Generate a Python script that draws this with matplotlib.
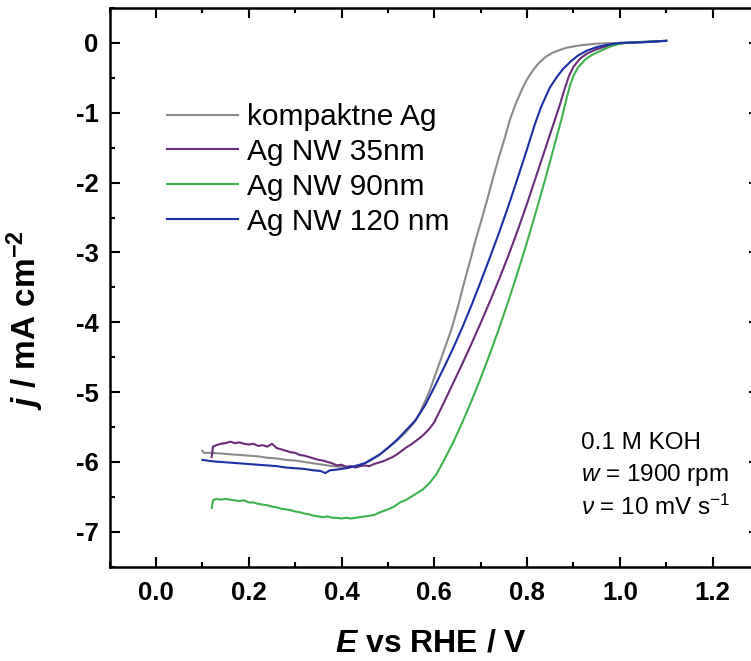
import matplotlib
matplotlib.use("Agg")
import matplotlib.pyplot as plt
from matplotlib.ticker import MultipleLocator

plt.rcParams['font.family'] = ['Liberation Sans', 'DejaVu Sans']
plt.rcParams['axes.unicode_minus'] = False
plt.rcParams['mathtext.fontset'] = 'custom'
plt.rcParams['mathtext.rm'] = 'Liberation Sans'
plt.rcParams['mathtext.it'] = 'Liberation Sans:italic'
plt.rcParams['mathtext.bf'] = 'Liberation Sans:bold'
plt.rcParams['mathtext.bfit'] = 'Liberation Sans:italic:bold'

# kompaktne Ag
E_komp = [0.100, 0.103, 0.12, 0.14, 0.16, 0.18, 0.20, 0.22, 0.24, 0.26, 0.28, 0.30,
          0.32, 0.34, 0.36, 0.38, 0.40, 0.42, 0.44, 0.46, 0.48, 0.497, 0.515, 0.535,
          0.555, 0.57, 0.59, 0.605, 0.62, 0.637, 0.652, 0.666, 0.68, 0.69, 0.702, 0.715,
          0.728, 0.74, 0.752, 0.763, 0.775, 0.79, 0.80, 0.813, 0.825, 0.84, 0.855, 0.871,
          0.885, 0.90, 0.92, 0.95, 1.00, 1.05, 1.10]
j_komp = [-5.84, -5.87, -5.87, -5.88, -5.89, -5.90, -5.91, -5.92, -5.94, -5.95, -5.97, -5.98,
          -6.00, -6.02, -6.04, -6.06, -6.07, -6.07, -6.04, -5.99, -5.91, -5.81, -5.72, -5.60,
          -5.45, -5.28, -4.98, -4.70, -4.42, -4.10, -3.75, -3.39, -3.05, -2.80, -2.53, -2.22,
          -1.90, -1.62, -1.36, -1.10, -0.88, -0.65, -0.52, -0.39, -0.29, -0.20, -0.14, -0.10,
          -0.07, -0.05, -0.03, -0.01, 0.00, 0.01, 0.03]

# Ag NW 35nm
E_35 = [0.120, 0.123, 0.13, 0.14, 0.15, 0.16, 0.17, 0.18, 0.19, 0.20, 0.21, 0.22,
        0.23, 0.24, 0.25, 0.26, 0.27, 0.28, 0.29, 0.30, 0.31, 0.32, 0.33, 0.34,
        0.35, 0.36, 0.37, 0.38, 0.39, 0.40, 0.41, 0.42, 0.43, 0.44, 0.45, 0.46,
        0.47, 0.48, 0.49, 0.50, 0.51, 0.52, 0.53, 0.54, 0.55, 0.56, 0.57, 0.58,
        0.59, 0.60, 0.62, 0.64, 0.66, 0.68, 0.70, 0.72, 0.74, 0.76, 0.78, 0.80,
        0.82, 0.84, 0.855, 0.87, 0.88, 0.89, 0.90, 0.915, 0.93, 0.95, 0.97, 0.99,
        1.01, 1.04, 1.07, 1.10]
j_35 = [-5.93, -5.78, -5.76, -5.74, -5.73, -5.71, -5.73, -5.72, -5.74, -5.75, -5.74, -5.77,
        -5.76, -5.78, -5.74, -5.80, -5.82, -5.84, -5.86, -5.87, -5.90, -5.91, -5.93, -5.95,
        -5.97, -5.98, -6.00, -6.02, -6.05, -6.04, -6.07, -6.06, -6.08, -6.06, -6.05, -6.06,
        -6.03, -6.01, -5.99, -5.96, -5.93, -5.89, -5.84, -5.79, -5.75, -5.70, -5.65, -5.59,
        -5.52, -5.43, -5.16, -4.88, -4.60, -4.31, -4.01, -3.70, -3.38, -3.04, -2.68, -2.30,
        -1.90, -1.50, -1.20, -0.90, -0.68, -0.48, -0.34, -0.22, -0.15, -0.09, -0.05, -0.02,
        0.00, 0.01, 0.02, 0.03]

# Ag NW 90nm
E_90 = [0.120, 0.123, 0.13, 0.14, 0.15, 0.16, 0.17, 0.18, 0.19, 0.20, 0.21, 0.22,
        0.23, 0.24, 0.25, 0.26, 0.27, 0.28, 0.29, 0.30, 0.31, 0.32, 0.33, 0.34,
        0.35, 0.36, 0.37, 0.38, 0.39, 0.40, 0.41, 0.42, 0.43, 0.44, 0.45, 0.46,
        0.47, 0.483, 0.50, 0.513, 0.526, 0.54, 0.555, 0.576, 0.59, 0.605, 0.619, 0.64,
        0.66, 0.68, 0.70, 0.72, 0.74, 0.76, 0.78, 0.80, 0.82, 0.84, 0.86, 0.875,
        0.885, 0.893, 0.90, 0.91, 0.925, 0.94, 0.963, 0.98, 1.00, 1.03, 1.07, 1.10]
j_90 = [-6.66, -6.55, -6.53, -6.54, -6.53, -6.54, -6.55, -6.56, -6.55, -6.58, -6.58, -6.60,
        -6.61, -6.62, -6.64, -6.65, -6.67, -6.68, -6.69, -6.71, -6.72, -6.74, -6.75, -6.77,
        -6.78, -6.79, -6.78, -6.80, -6.80, -6.81, -6.80, -6.81, -6.80, -6.79, -6.78, -6.77,
        -6.76, -6.72, -6.68, -6.64, -6.58, -6.54, -6.48, -6.39, -6.30, -6.17, -6.00, -5.73,
        -5.44, -5.13, -4.80, -4.45, -4.08, -3.69, -3.28, -2.85, -2.40, -1.93, -1.44, -1.07,
        -0.80, -0.60, -0.47, -0.35, -0.24, -0.17, -0.10, -0.05, -0.01, 0.01, 0.02, 0.03]

# Ag NW 120 nm
E_120 = [0.100, 0.12, 0.14, 0.16, 0.18, 0.20, 0.22, 0.24, 0.26, 0.28, 0.30, 0.32,
         0.34, 0.355, 0.365, 0.375, 0.39, 0.41, 0.43, 0.45, 0.465, 0.483, 0.50, 0.52,
         0.54, 0.56, 0.58, 0.60, 0.62, 0.64, 0.66, 0.68, 0.70, 0.72, 0.74, 0.76,
         0.78, 0.80, 0.817, 0.83, 0.849, 0.865, 0.878, 0.895, 0.91, 0.929, 0.95, 0.97,
         1.00, 1.05, 1.10]
j_120 = [-5.97, -5.99, -6.00, -6.01, -6.02, -6.03, -6.04, -6.05, -6.06, -6.08, -6.09, -6.10,
         -6.12, -6.13, -6.16, -6.12, -6.11, -6.09, -6.06, -6.02, -5.96, -5.89, -5.80, -5.68,
         -5.54, -5.40, -5.19, -4.93, -4.66, -4.38, -4.08, -3.76, -3.42, -3.07, -2.71, -2.33,
         -1.93, -1.52, -1.16, -0.92, -0.64, -0.48, -0.37, -0.26, -0.18, -0.11, -0.06, -0.03,
         0.00, 0.01, 0.03]

fig = plt.figure(figsize=(7.51, 6.61), dpi=100)
ax = fig.add_axes([109.6 / 751, 94.3 / 661, 649.4 / 751, 558.7 / 661])

ax.plot(E_komp, j_komp, color='#8a8a8a', lw=1.5, label='kompaktne Ag')
ax.plot(E_35, j_35, color='#6b2d7b', lw=1.5, label='Ag NW 35nm')
ax.plot(E_90, j_90, color='#3cb44b', lw=1.5, label='Ag NW 90nm')
ax.plot(E_120, j_120, color='#1c2fa6', lw=1.5, label='Ag NW 120 nm')

ax.set_xlim(-0.1, 1.3)
ax.set_ylim(-7.5, 0.5)
ax.xaxis.set_major_locator(MultipleLocator(0.2))
ax.xaxis.set_minor_locator(MultipleLocator(0.1))
ax.yaxis.set_major_locator(MultipleLocator(1))
ax.yaxis.set_minor_locator(MultipleLocator(0.5))
ax.tick_params(which='both', direction='in', top=True, right=True, width=1.5)
ax.tick_params(which='major', length=7)
ax.tick_params(which='minor', length=3.5)
ax.tick_params(axis='x', pad=10)
ax.tick_params(axis='y', pad=8)
for lab in ax.get_xticklabels() + ax.get_yticklabels():
    lab.set_fontsize(18.5)
    lab.set_fontweight('bold')
for sp in ax.spines.values():
    sp.set_linewidth(1.8)

fig.text(431 / 751, 1 - 643 / 661, r'$\mathbfit{E}$ vs RHE / V', fontsize=23,
         fontweight='bold', ha='center', va='center')
fig.text(25 / 751, 1 - 320 / 661, r'$\mathbfit{j}$ / mA cm$^{\mathbf{-2}}$', fontsize=24,
         fontweight='bold', ha='center', va='center', rotation=90)

ax.legend(loc='upper left', bbox_to_anchor=(167 / 751, 1 - 103 / 661),
          bbox_transform=fig.transFigure, frameon=False, fontsize=21.5,
          handlelength=2.38, handletextpad=0.3, labelspacing=0.23,
          borderpad=0, borderaxespad=0)

ax.text(581 / 751, 1 - 443 / 661, '0.1 M KOH', transform=fig.transFigure,
        fontsize=17.5, va='center', ha='left')
ax.text(581 / 751, 1 - 475 / 661, r'$\mathit{w}$ = 1900 rpm', transform=fig.transFigure,
        fontsize=17.5, va='center', ha='left')
ax.text(581 / 751, 1 - 507 / 661, r'$\nu$ = 10 mV s$^{-1}$', transform=fig.transFigure,
        fontsize=17.5, va='center', ha='left')

fig.savefig('out.png', dpi=100)
